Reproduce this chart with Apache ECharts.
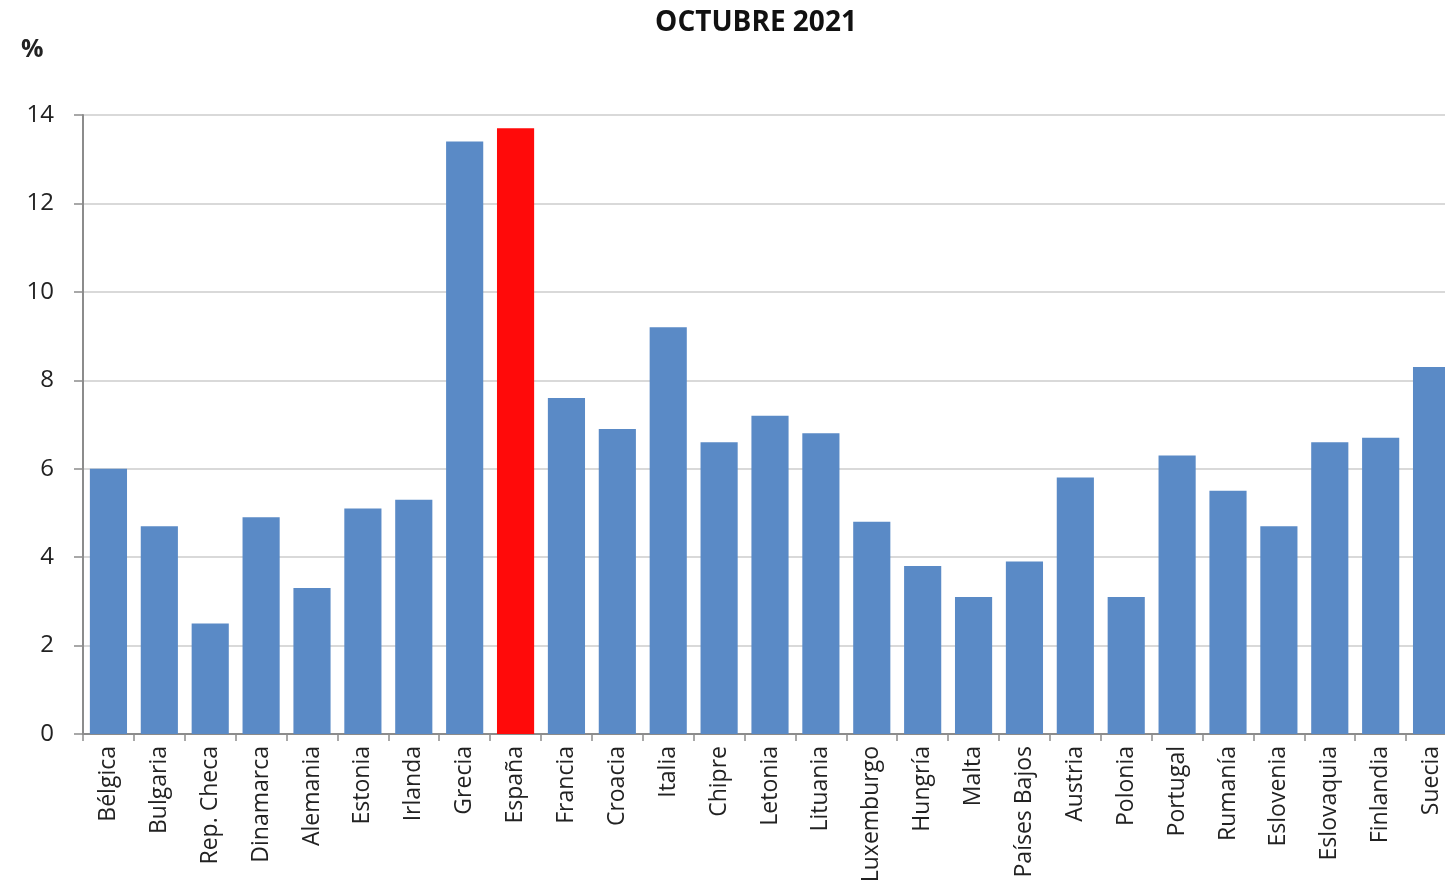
<!DOCTYPE html>
<html>
<head>
<meta charset="utf-8">
<script src="https://cdn.jsdelivr.net/npm/echarts@6/dist/echarts.min.js"></script>
<style>
html,body{margin:0;padding:0;background:#fff;}
#chart{width:1445px;height:896px;}
</style>
</head>
<body>
<div id="chart"></div>
<script>
const categories = ["Bélgica","Bulgaria","Rep. Checa","Dinamarca","Alemania","Estonia","Irlanda","Grecia","España","Francia","Croacia","Italia","Chipre","Letonia","Lituania","Luxemburgo","Hungría","Malta","Países Bajos","Austria","Polonia","Portugal","Rumanía","Eslovenia","Eslovaquia","Finlandia","Suecia"];
const values = [6.0,4.7,2.5,4.9,3.3,5.1,5.3,13.4,13.7,7.6,6.9,9.2,6.6,7.2,6.8,4.8,3.8,3.1,3.9,5.8,3.1,6.3,5.5,4.7,6.6,6.7,8.3];
const highlight = "España";
const yTicks = [0,2,4,6,8,10,12,14];
const titleText = "OCTUBRE 2021";
const unitText = "%";

const BLUE = "#5A8AC6", RED = "#FF0A0A";
const chart = echarts.init(document.getElementById('chart'));
chart.setOption({
  animation:false,
  backgroundColor:"#fff",
  title:[
    {text:titleText,left:751,top:4,textAlign:'center',textStyle:{fontFamily:'Open Sans',fontWeight:'bold',fontSize:28,color:'#111'}},
    {text:unitText,left:16,top:32,textStyle:{fontFamily:'Open Sans',fontWeight:'bold',fontSize:25,color:'#222'}}
  ],
  grid:{left:83,top:115,width:1374,height:619,containLabel:false,outerBoundsMode:'none'},
  xAxis:{
    type:'category',data:categories,
    axisLine:{lineStyle:{color:'#8c8c8c',width:2}},
    axisTick:{show:true,length:7,lineStyle:{color:'#8c8c8c',width:1.5}},
    axisLabel:{rotate:90,margin:12,fontFamily:'Open Sans',fontSize:23,color:'#222',interval:0}
  },
  yAxis:{
    type:'value',min:yTicks[0],max:yTicks[yTicks.length-1],interval:2,
    axisLine:{show:true,lineStyle:{color:'#8c8c8c',width:2}},
    axisTick:{show:true,length:9,lineStyle:{color:'#8c8c8c',width:1.5}},
    axisLabel:{margin:29,fontFamily:'Open Sans',fontSize:24,color:'#222'},
    splitLine:{lineStyle:{color:'#d9d9d9',width:2}}
  },
  series:[{
    type:'bar',
    data:values.map((v,i)=>({value:v,itemStyle:{color:categories[i]===highlight?RED:BLUE}})),
    barCategoryGap:'27%'
  }]
});
</script>
</body>
</html>
